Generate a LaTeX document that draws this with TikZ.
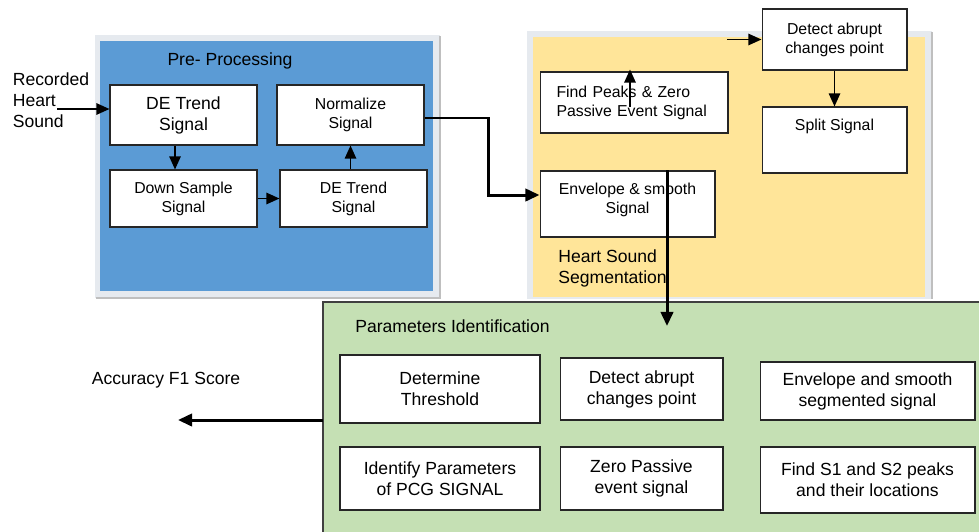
\documentclass[tikz,border=0pt]{standalone}
\usepackage{fontspec}
\setmainfont{Liberation Sans}
\usetikzlibrary{arrows.meta, positioning}
\definecolor{preblue}{HTML}{5B9BD5}
\definecolor{segyellow}{HTML}{FFE599}
\definecolor{pargreen}{HTML}{C5E0B4}
\definecolor{framegray}{HTML}{E6EAEF}
\tikzset{
  block/.style={rectangle, draw=black!85, fill=white, line width=0.6pt, text centered, align=center, inner sep=2pt, font=\fontsize{10}{12}\selectfont},
  smallblock/.style={block, font=\fontsize{9}{10.8}\selectfont},
  label/.style={text centered, inner sep=0, font=\fontsize{10}{12}\selectfont},
  flow/.style={-{Triangle[length=7.5pt, width=6.5pt]}, line width=1pt},
  bigflow/.style={-{Triangle[length=8pt, width=7pt]}, line width=1.7pt}
}
\begin{document}
\begin{tikzpicture}[x=0.02cm, y=-0.02cm]
  \useasboundingbox (0, 0) rectangle (979, 531);

  % regions
  \fill[framegray] (95, 35) rectangle (440, 298);
  \draw[black!25, line width=0.8pt] (440, 36) -- (440, 298) -- (96, 298);
  \fill[preblue] (100, 41) rectangle (433, 291);
  \fill[framegray] (527, 31) rectangle (932, 299);
  \draw[black!25, line width=0.8pt] (932, 32) -- (932, 299);
  \fill[segyellow] (533, 37) rectangle (925, 297);
  \draw[black!75, line width=0.7pt, fill=pargreen] (323, 302) rectangle (990, 540);

  \node[label](pretitle) at (230, 61){Pre- Processing};
  \node[label, align=left](rec) at (51, 100){Recorded\\Heart\\Sound};
  \node[label, align=left, anchor=west](segtitle) at (558, 268){Heart Sound\\Segmentation};
  \node[label, anchor=west](partitle) at (355, 326){Parameters Identification};
  \node[label](acc) at (166, 380){Accuracy F1 Score};

  % pre-processing
  \node[block, minimum width=2.94cm, minimum height=1.2cm](detrendA) at (183.5, 115){DE Trend\\Signal};
  \node[smallblock, minimum width=2.94cm, minimum height=1.2cm](normal) at (350.5, 115){Normalize\\Signal};
  \node[smallblock, minimum width=2.94cm, minimum height=1.14cm](downs) at (183.5, 198.5){Down Sample\\Signal};
  \node[smallblock, minimum width=2.94cm, minimum height=1.14cm](detrendB) at (353.5, 198.5){DE Trend\\Signal};

  % segmentation
  \node[smallblock, minimum width=2.9cm, minimum height=1.22cm](detect) at (834.5, 39.5){Detect abrupt\\changes point};
  \node[smallblock, minimum width=2.9cm, minimum height=1.32cm, text depth=0.6cm](split) at (834.5, 140){Split Signal};
  \node[smallblock, minimum width=3.76cm, minimum height=1.22cm, align=left, text width=3.1cm](findpk) at (634, 102.5){Find Peaks \& Zero\\Passive Event Signal};
  \node[smallblock, minimum width=3.5cm, minimum height=1.32cm, text depth=0.22cm](envel) at (627.5, 204){Envelope \& smooth\\Signal};

  % parameters
  \node[block, minimum width=4cm, minimum height=1.36cm](thresh) at (440, 389){Determine\\Threshold};
  \node[block, minimum width=3.26cm, minimum height=1.24cm](detectB) at (641.5, 389){Detect abrupt\\changes point};
  \node[block, minimum width=4.3cm, minimum height=1.16cm](envelB) at (867.5, 391){Envelope and smooth\\segmented signal};
  \node[block, minimum width=4cm, minimum height=1.26cm](identify) at (440, 478.5){Identify Parameters\\of PCG SIGNAL};
  \node[block, minimum width=3.26cm, minimum height=1.26cm](zero) at (641.5, 478.5){Zero Passive\\event signal};
  \node[block, minimum width=4.3cm, minimum height=1.32cm](finds) at (867.5, 480){Find S1 and S2 peaks\\and their locations};

  \coordinate(recin) at (57, 109);
  \coordinate(turn) at (488, 150);
  \coordinate(pkup) at (630, 107);
  \coordinate(detin) at (727, 39.5);
  \coordinate(parin) at (667, 326);
  \coordinate(parout) at (323, 420);
  \coordinate(accout) at (178, 420);

  \draw[flow](recin) -- (recin -| detrendA.west);
  \draw[flow]([xshift=-0.17cm]detrendA.south) -- ([xshift=-0.17cm]downs.north);
  \draw[flow](downs.east) -- (detrendB.west);
  \draw[flow](detrendB.north -| normal.south) -- (normal.south);
  \draw[bigflow]([yshift=-0.06cm]normal.east) -| (turn) |- ([yshift=0.18cm]envel.west);
  \draw[flow](pkup) -- ([yshift=0.04cm]pkup |- findpk.north);
  \draw[flow](detin) -- (detect.west);
  \draw[flow](detect.south) -- (split.north);
  \draw[bigflow](parin |- envel.north) -- (parin);
  \draw[bigflow](parout) -- (accout);
\end{tikzpicture}
\end{document}
